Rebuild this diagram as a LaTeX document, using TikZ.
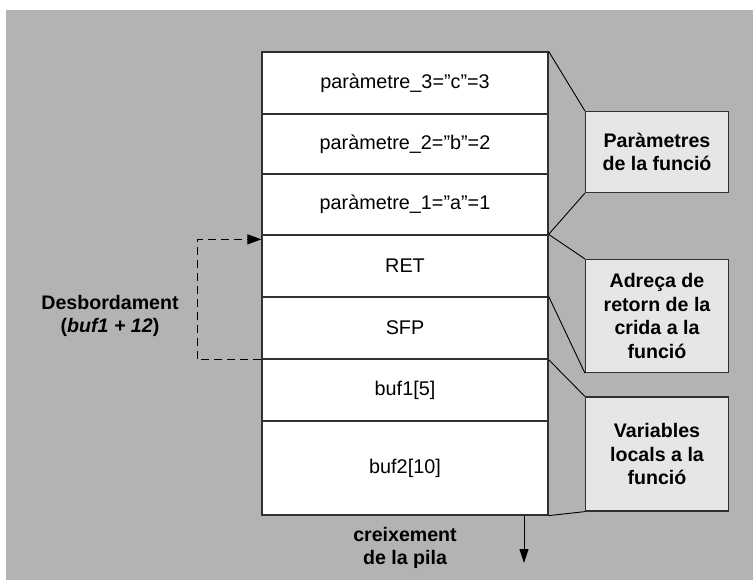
\documentclass[tikz,border=0pt]{standalone}
\usepackage{fontspec}
\setmainfont{Liberation Sans}
\usetikzlibrary{arrows.meta}
\definecolor{bggray}{HTML}{B3B3B3}
\definecolor{boxgray}{HTML}{E6E6E6}
\definecolor{edge}{HTML}{303030}
\begin{document}
\begin{tikzpicture}[x=1pt,y=-1pt,
  cell/.style={draw=edge, line width=1.3pt, fill=white, minimum width=286pt, inner sep=0pt, font=\fontsize{19.8}{23.7}\selectfont},
  note/.style={draw=edge, line width=1.2pt, fill=boxgray, minimum width=143pt, inner sep=0pt, align=center, font=\fontsize{19.6}{23.7}\selectfont\bfseries},
  lbl/.style={align=center, font=\fontsize{19.6}{23.7}\selectfont\bfseries},
  conn/.style={line width=0.9pt, draw=black}]
\useasboundingbox (0,0) rectangle (754,581);
\fill[white] (0,0) rectangle (754,581);
\fill[bggray] (6,10) rectangle (753,580);
% stack
\node[cell, minimum height=62pt] (p3) at (405,83) {paràmetre\_3=”c”=3};
\node[cell, minimum height=60pt] (p2) at (405,144) {paràmetre\_2=”b”=2};
\node[cell, minimum height=61pt] (p1) at (405,204.5) {paràmetre\_1=”a”=1};
\node[cell, minimum height=62pt] (ret) at (405,266) {RET};
\node[cell, minimum height=62pt] (sfp) at (405,328) {SFP};
\node[cell, minimum height=62pt] (b1) at (405,390) {buf1[5]};
\node[cell, minimum height=94pt] (b2) at (405,468) {buf2[10]};
% notes
\node[note, minimum height=81pt] (n1) at (657,152) {Paràmetres\\de la funció};
\node[note, minimum height=113pt] (n2) at (657,316) {Adreça de\\retorn de la\\crida a la\\funció};
\node[note, minimum height=114pt] (n3) at (657,454) {Variables\\locals a la\\funció};
% connectors
\draw[conn] (p3.north east) -- (n1.north west);
\draw[conn] (ret.north east) -- (n1.south west);
\draw[conn] (ret.north east) -- (n2.north west);
\draw[conn] (sfp.north east) -- (n2.south west);
\draw[conn] (sfp.south east) -- (n3.north west);
\draw[conn] (b2.south east) -- (n3.south west);
% overflow
\draw[line width=1.2pt, dash pattern=on 8pt off 5pt, -{Triangle[length=14pt,width=10pt]}]
  (sfp.south west) -- ++(-64,0) |- ([yshift=-5pt]ret.north west);
\node[lbl] (desb) at (110,316) {Desbordament\\(\textit{buf1 + 12})};
% growth
\coordinate (g) at (524,563);
\draw[line width=1pt, -{Triangle[length=14pt,width=9pt]}] (g |- b2.south) -- (g);
\node[lbl] (creix) at (405,548) {creixement\\de la pila};
\end{tikzpicture}
\end{document}
